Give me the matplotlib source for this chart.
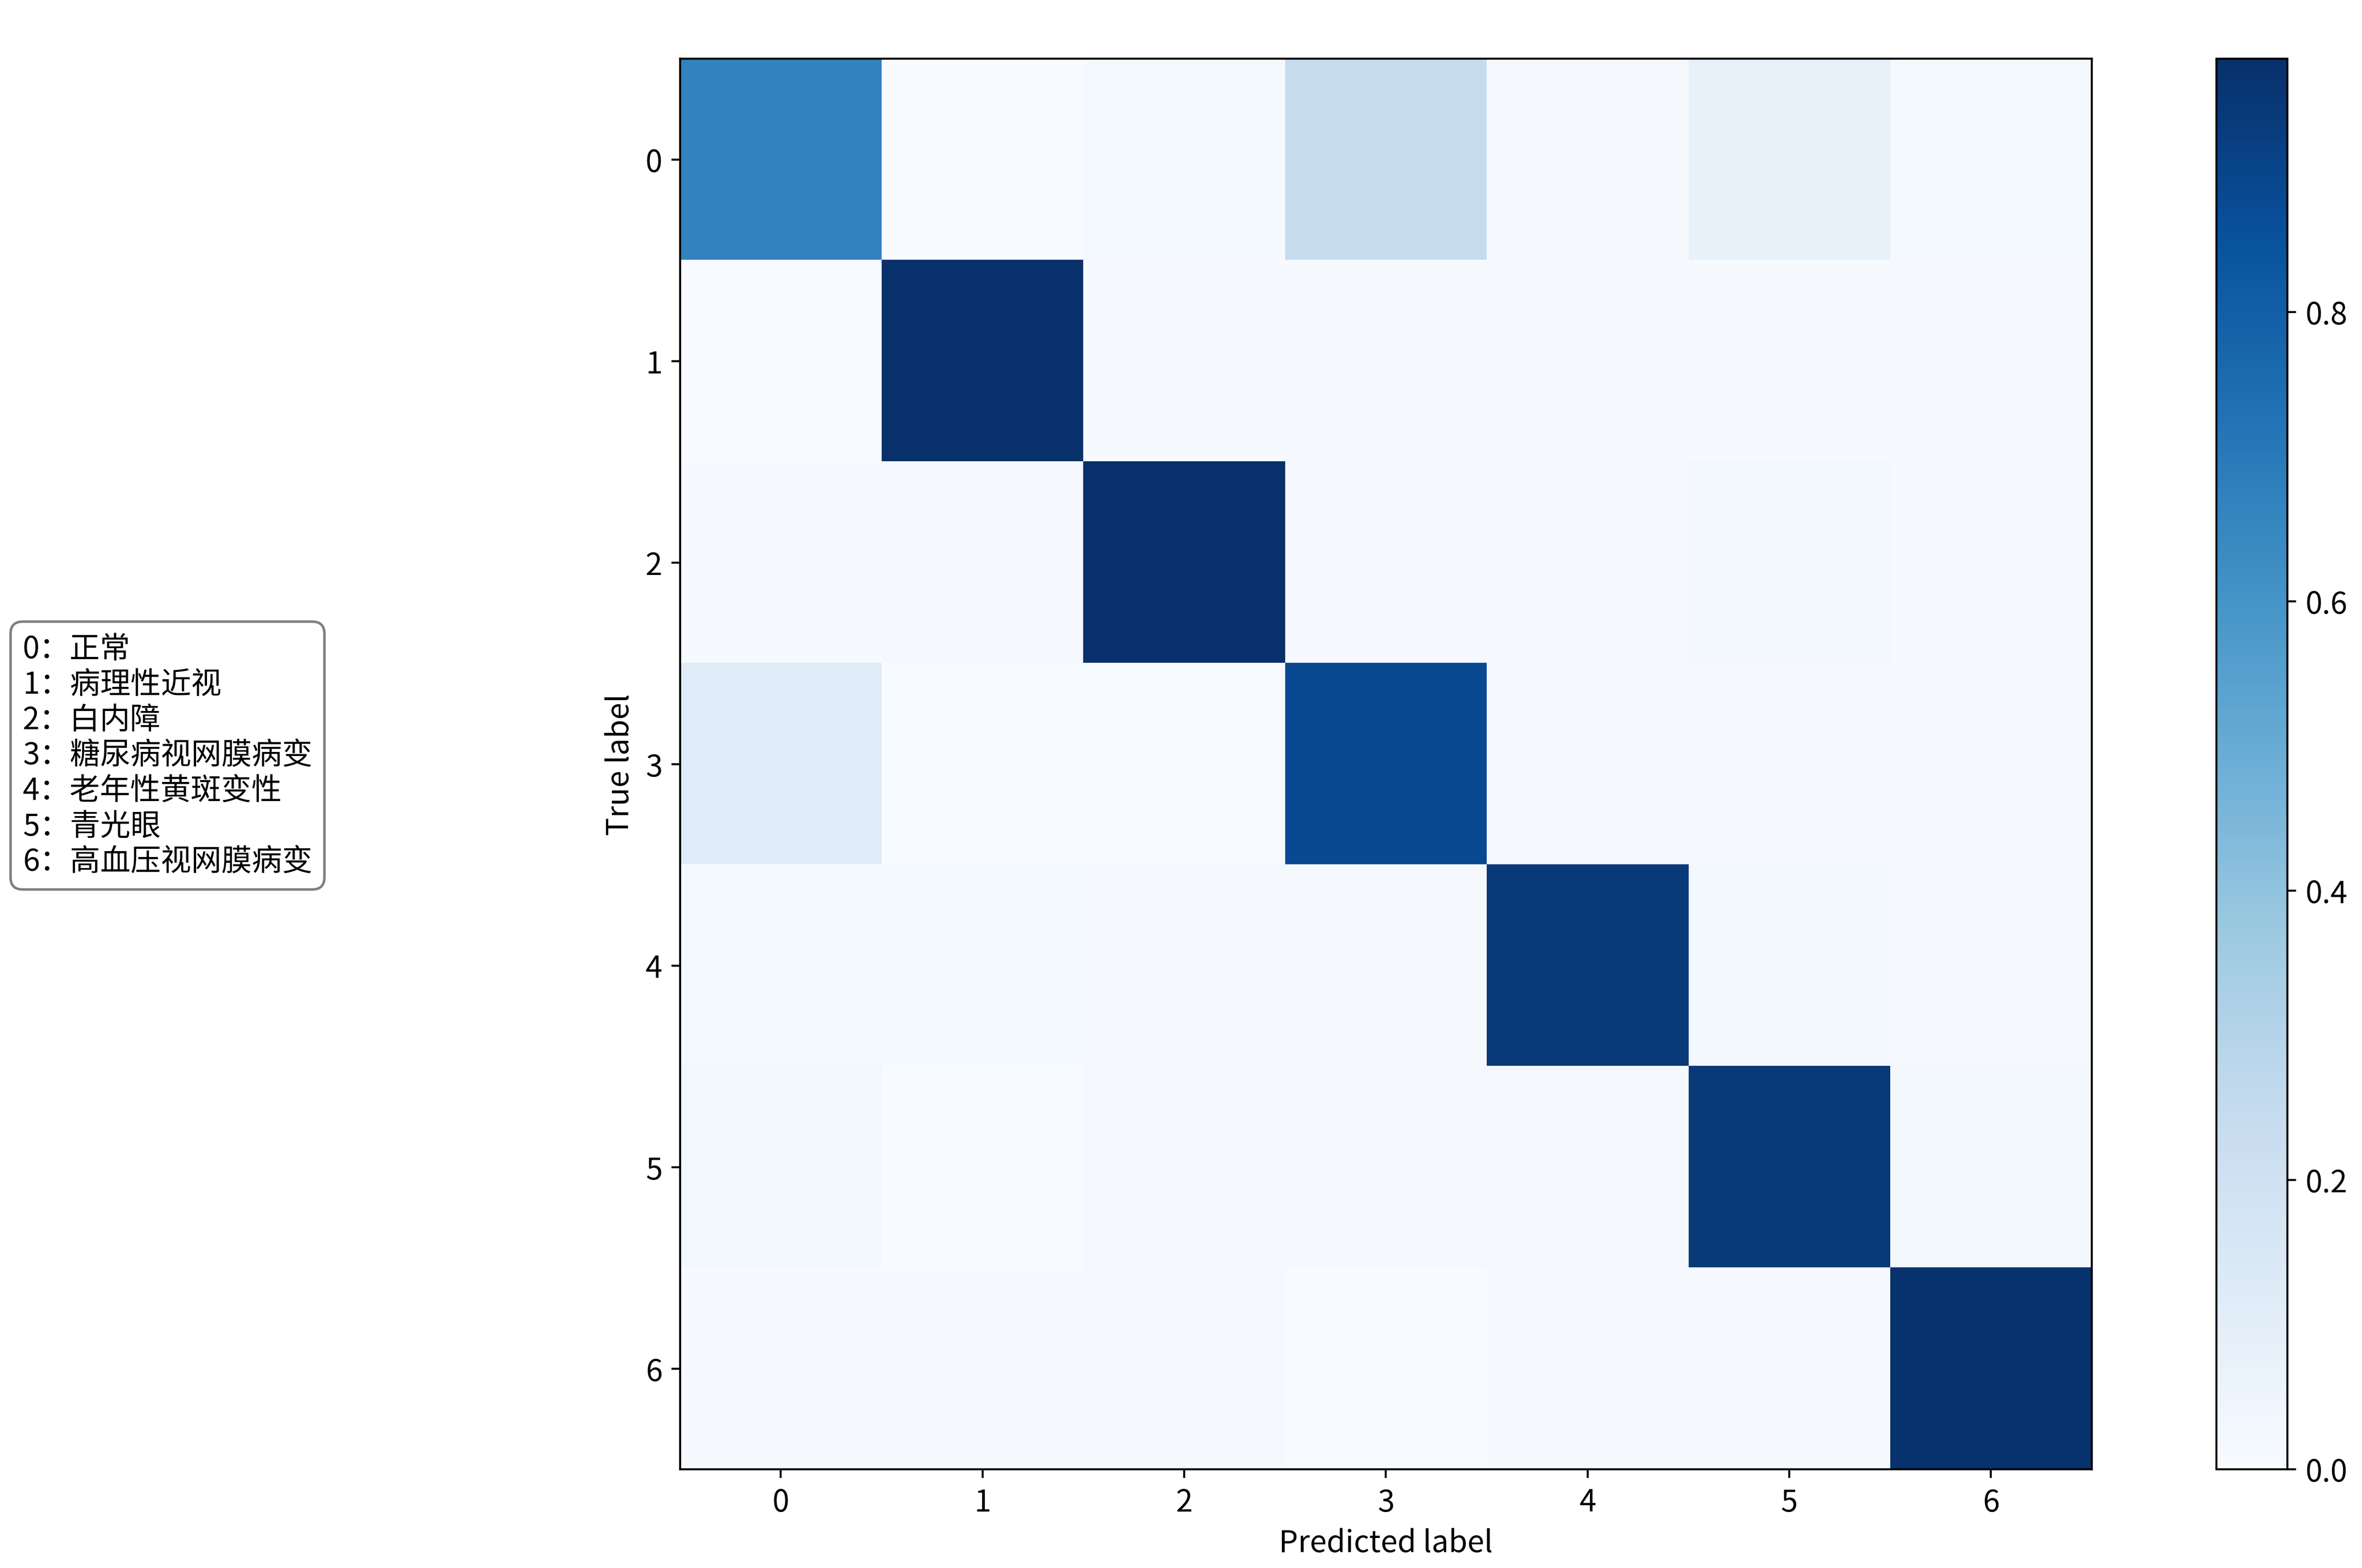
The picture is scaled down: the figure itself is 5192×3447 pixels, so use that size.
import numpy as np
import matplotlib
matplotlib.use('Agg')
import matplotlib.pyplot as plt

plt.rcParams['font.family'] = ['Noto Sans CJK SC', 'DejaVu Sans']
plt.rcParams['font.size'] = 12

# class ids and names
classes = ['0', '1', '2', '3', '4', '5', '6']
class_names = ['正常', '病理性近视', '白内障', '糖尿病视网膜病变',
               '老年性黄斑变性', '青光眼', '高血压视网膜病变']

# normalized confusion matrix (rows = true, cols = predicted)
row_0 = [0.665, 0.005, 0.015, 0.240, 0.012, 0.072, 0.014]
row_1 = [0.004, 0.970, 0.006, 0.008, 0.008, 0.008, 0.010]
row_2 = [0.006, 0.012, 0.975, 0.006, 0.006, 0.024, 0.008]
row_3 = [0.118, 0.002, 0.002, 0.878, 0.012, 0.012, 0.012]
row_4 = [0.015, 0.016, 0.010, 0.012, 0.935, 0.018, 0.010]
row_5 = [0.026, 0.004, 0.010, 0.012, 0.010, 0.940, 0.020]
row_6 = [0.008, 0.006, 0.010, 0.004, 0.013, 0.008, 0.965]
cm = np.array([row_0, row_1, row_2, row_3, row_4, row_5, row_6])

fig = plt.figure(figsize=(12.98, 8.62), dpi=400)
ax = fig.add_axes([0.2879, 0.0629, 0.5977, 0.8993])
cax = fig.add_axes([0.9383, 0.0629, 0.0302, 0.8993])

im = ax.imshow(cm, interpolation='nearest', cmap=plt.cm.Blues, aspect='auto')
cb = fig.colorbar(im, cax=cax)
cb.set_ticks([0.0, 0.2, 0.4, 0.6, 0.8])

ax.set_xticks(np.arange(len(classes)))
ax.set_xticklabels(classes)
ax.set_yticks(np.arange(len(classes)))
ax.set_yticklabels(classes)
ax.set_xlabel('Predicted label')
ax.set_ylabel('True label')

# legend box with class names
legend_text = '\n'.join(f'{c}：{n}' for c, n in zip(classes, class_names))
fig.text(0.0096, 0.518, legend_text, ha='left', va='center', fontsize=12,
         bbox=dict(boxstyle='round,pad=0.4', facecolor='white', edgecolor='gray'))

plt.savefig('out.png', dpi=400)
